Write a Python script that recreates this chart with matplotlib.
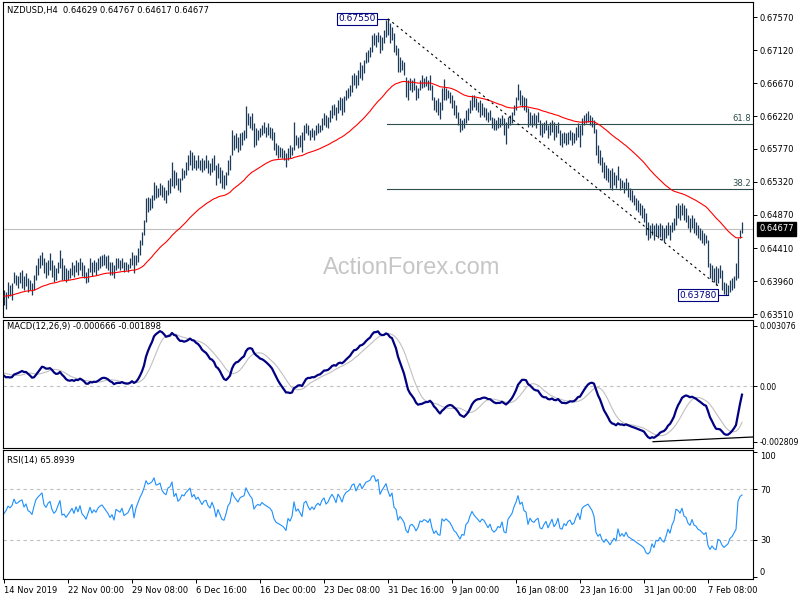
import numpy as np
import matplotlib.pyplot as plt
import matplotlib.transforms as mtransforms

plt.rcParams['font.family'] = ['DejaVu Sans']

# NZDUSD H4 bars, prices in pips (x 0.0001)
highs = [
    6384, 6381, 6395, 6391, 6394, 6409, 6405, 6403, 6409, 6412,
    6403, 6407, 6401, 6398, 6394, 6405, 6418, 6428, 6432, 6436,
    6428, 6422, 6425, 6435, 6425, 6418, 6414, 6422, 6439, 6428,
    6418, 6414, 6412, 6414, 6422, 6418, 6425, 6422, 6428, 6422,
    6418, 6409, 6414, 6428, 6422, 6425, 6422, 6428, 6431, 6432,
    6433, 6431, 6432, 6422, 6422, 6418, 6428, 6428, 6425, 6428,
    6422, 6422, 6420, 6428, 6436, 6432, 6432, 6442, 6453, 6463,
    6480, 6510, 6511, 6510, 6514, 6532, 6528, 6524, 6530, 6528,
    6525, 6521, 6535, 6537, 6559, 6548, 6545, 6537, 6537, 6551,
    6548, 6559, 6569, 6576, 6573, 6569, 6562, 6569, 6562, 6565,
    6562, 6569, 6562, 6558, 6565, 6569, 6555, 6558, 6552, 6548,
    6541, 6545, 6562, 6569, 6603, 6596, 6599, 6593, 6599, 6600,
    6603, 6636, 6626, 6622, 6626, 6612, 6606, 6603, 6606, 6610,
    6614, 6607, 6612, 6607, 6606, 6600, 6585, 6582, 6580, 6578,
    6576, 6571, 6578, 6582, 6580, 6614, 6596, 6593, 6596, 6600,
    6610, 6612, 6610, 6603, 6606, 6603, 6610, 6612, 6610, 6619,
    6626, 6623, 6621, 6630, 6637, 6638, 6634, 6644, 6648, 6647,
    6649, 6658, 6660, 6664, 6678, 6681, 6678, 6685, 6696, 6692,
    6699, 6710, 6712, 6716, 6733, 6735, 6733, 6737, 6733, 6730,
    6740, 6753, 6755, 6749, 6744, 6735, 6719, 6715, 6703, 6699,
    6696, 6675, 6671, 6674, 6671, 6674, 6664, 6660, 6671, 6678,
    6674, 6677, 6671, 6678, 6664, 6648, 6644, 6647, 6641, 6660,
    6672, 6660, 6658, 6655, 6651, 6644, 6637, 6628, 6619, 6617,
    6619, 6630, 6633, 6644, 6651, 6651, 6647, 6641, 6644, 6640,
    6634, 6633, 6628, 6630, 6621, 6619, 6617, 6621, 6619, 6623,
    6619, 6614, 6621, 6623, 6628, 6637, 6648, 6666, 6658, 6651,
    6648, 6647, 6633, 6628, 6623, 6626, 6623, 6628, 6617, 6612,
    6614, 6617, 6610, 6614, 6617, 6614, 6610, 6614, 6603, 6599,
    6600, 6599, 6600, 6603, 6600, 6599, 6607, 6612, 6610, 6619,
    6623, 6626, 6629, 6623, 6621, 6617, 6604, 6582, 6576, 6566,
    6559, 6555, 6551, 6548, 6551, 6545, 6541, 6554, 6537, 6535,
    6532, 6537, 6532, 6524, 6521, 6514, 6510, 6507, 6503, 6500,
    6496, 6489, 6477, 6473, 6476, 6473, 6476, 6473, 6476, 6473,
    6469, 6473, 6477, 6473, 6477, 6483, 6500, 6503, 6500, 6503,
    6500, 6496, 6487, 6483, 6487, 6483, 6477, 6473, 6469, 6466,
    6462, 6459, 6452, 6421, 6418, 6414, 6417, 6414, 6418, 6412,
    6395, 6394, 6391, 6398, 6401, 6403, 6421, 6455, 6466, 6476.7,
]
lows = [
    6364, 6358, 6373, 6376, 6370, 6394, 6391, 6387, 6394, 6387,
    6384, 6390, 6381, 6384, 6377, 6384, 6398, 6405, 6414, 6418,
    6407, 6401, 6405, 6412, 6402, 6395, 6398, 6407, 6414, 6398,
    6398, 6395, 6398, 6401, 6405, 6402, 6409, 6405, 6412, 6403,
    6401, 6394, 6395, 6409, 6403, 6409, 6405, 6412, 6414, 6417,
    6418, 6414, 6412, 6405, 6405, 6401, 6412, 6414, 6412, 6414,
    6409, 6412, 6409, 6414, 6418, 6407, 6418, 6422, 6432, 6446,
    6459, 6477, 6491, 6494, 6496, 6507, 6510, 6511, 6514, 6511,
    6507, 6503, 6514, 6517, 6526, 6524, 6528, 6521, 6518, 6535,
    6537, 6541, 6548, 6555, 6548, 6551, 6548, 6551, 6548, 6545,
    6548, 6551, 6544, 6541, 6545, 6548, 6528, 6537, 6530, 6524,
    6522, 6528, 6541, 6548, 6569, 6576, 6578, 6573, 6576, 6582,
    6589, 6592, 6610, 6606, 6603, 6580, 6582, 6589, 6593, 6596,
    6599, 6593, 6596, 6592, 6589, 6576, 6569, 6565, 6566, 6565,
    6562, 6552, 6562, 6565, 6569, 6576, 6582, 6578, 6580, 6573,
    6589, 6599, 6596, 6589, 6593, 6589, 6596, 6599, 6600, 6603,
    6610, 6607, 6606, 6614, 6619, 6623, 6617, 6626, 6630, 6623,
    6628, 6644, 6647, 6649, 6655, 6664, 6660, 6664, 6674, 6671,
    6681, 6694, 6696, 6703, 6710, 6719, 6716, 6723, 6708, 6712,
    6722, 6730, 6733, 6722, 6726, 6710, 6705, 6682, 6682, 6685,
    6678, 6648, 6644, 6658, 6655, 6658, 6644, 6647, 6658, 6660,
    6662, 6663, 6658, 6658, 6644, 6630, 6628, 6623, 6618, 6630,
    6644, 6644, 6647, 6640, 6633, 6623, 6619, 6610, 6600, 6603,
    6606, 6612, 6617, 6626, 6630, 6634, 6630, 6628, 6621, 6623,
    6621, 6617, 6614, 6617, 6606, 6603, 6603, 6606, 6607, 6610,
    6596, 6584, 6606, 6610, 6612, 6623, 6630, 6644, 6637, 6634,
    6630, 6628, 6607, 6610, 6607, 6610, 6606, 6614, 6596, 6593,
    6599, 6603, 6592, 6596, 6600, 6589, 6593, 6599, 6582, 6580,
    6585, 6582, 6584, 6589, 6582, 6585, 6589, 6593, 6580, 6596,
    6610, 6612, 6614, 6610, 6607, 6599, 6569, 6558, 6555, 6545,
    6537, 6535, 6532, 6524, 6521, 6528, 6524, 6535, 6521, 6524,
    6517, 6521, 6511, 6507, 6504, 6500, 6494, 6491, 6487, 6483,
    6477, 6459, 6453, 6455, 6459, 6453, 6459, 6455, 6457, 6453,
    6450, 6455, 6459, 6453, 6463, 6466, 6473, 6483, 6480, 6487,
    6480, 6477, 6469, 6463, 6469, 6462, 6459, 6455, 6453, 6448,
    6446, 6448, 6416, 6401, 6398, 6395, 6391, 6394, 6401, 6384,
    6379, 6378, 6378, 6381, 6384, 6387, 6398, 6401, 6455, 6461.7,
]
closes = [
    6372, 6378, 6388, 6385, 6390, 6405, 6398, 6400, 6404, 6406,
    6396, 6402, 6392, 6390, 6386, 6400, 6414, 6420, 6425, 6430,
    6414, 6410, 6418, 6422, 6410, 6404, 6408, 6418, 6428, 6404,
    6406, 6400, 6405, 6410, 6416, 6408, 6420, 6412, 6424, 6410,
    6406, 6400, 6410, 6422, 6412, 6418, 6414, 6422, 6426, 6428,
    6424, 6420, 6416, 6410, 6414, 6406, 6422, 6420, 6418, 6424,
    6414, 6416, 6418, 6424, 6430, 6412, 6428, 6438, 6450, 6460,
    6476, 6505, 6500, 6504, 6510, 6528, 6518, 6520, 6526, 6516,
    6512, 6510, 6530, 6534, 6552, 6530, 6540, 6526, 6532, 6546,
    6544, 6555, 6562, 6570, 6556, 6564, 6556, 6562, 6556, 6550,
    6558, 6560, 6552, 6548, 6560, 6552, 6535, 6550, 6540, 6530,
    6528, 6540, 6558, 6565, 6598, 6590, 6585, 6580, 6592, 6596,
    6598, 6625, 6618, 6612, 6608, 6588, 6596, 6600, 6598, 6605,
    6602, 6600, 6598, 6596, 6592, 6580, 6574, 6572, 6570, 6568,
    6565, 6560, 6574, 6570, 6576, 6600, 6586, 6590, 6584, 6578,
    6604, 6608, 6600, 6594, 6600, 6596, 6604, 6608, 6605, 6615,
    6620, 6612, 6616, 6625, 6632, 6628, 6622, 6640, 6636, 6630,
    6644, 6652, 6655, 6660, 6672, 6676, 6668, 6680, 6690, 6684,
    6694, 6705, 6708, 6712, 6728, 6730, 6724, 6732, 6714, 6726,
    6736, 6748, 6738, 6730, 6740, 6716, 6712, 6688, 6696, 6690,
    6682, 6660, 6652, 6666, 6668, 6662, 6650, 6656, 6668, 6666,
    6670, 6668, 6664, 6670, 6650, 6636, 6640, 6630, 6628, 6655,
    6650, 6654, 6650, 6646, 6638, 6628, 6624, 6615, 6606, 6612,
    6610, 6625, 6628, 6638, 6646, 6640, 6636, 6632, 6628, 6632,
    6630, 6624, 6618, 6622, 6612, 6608, 6610, 6614, 6612, 6618,
    6602, 6600, 6616, 6620, 6624, 6634, 6642, 6655, 6644, 6648,
    6636, 6634, 6612, 6622, 6616, 6614, 6618, 6620, 6602, 6600,
    6606, 6610, 6598, 6604, 6610, 6596, 6600, 6608, 6588, 6586,
    6594, 6590, 6596, 6598, 6590, 6592, 6600, 6606, 6596, 6614,
    6618, 6620, 6622, 6618, 6614, 6606, 6575, 6565, 6568, 6552,
    6544, 6548, 6540, 6530, 6534, 6538, 6530, 6546, 6526, 6530,
    6522, 6528, 6516, 6512, 6508, 6505, 6500, 6496, 6492, 6488,
    6482, 6465, 6460, 6462, 6470, 6458, 6466, 6464, 6468, 6460,
    6456, 6462, 6470, 6462, 6472, 6478, 6496, 6494, 6490, 6498,
    6486, 6484, 6474, 6470, 6478, 6468, 6466, 6460, 6458, 6454,
    6450, 6452, 6420, 6406, 6410, 6400, 6396, 6408, 6405, 6390,
    6382, 6384, 6386, 6392, 6394, 6398, 6402, 6450, 6463, 6467.7,
]

# values carried in from before the first bar (pips)
ma_seed = 6376
ema12_seed = 6385
ema26_seed = 6378
signal_seed = 7
rsi_prev_close = 6370
rsi_gain_seed = 5.0
rsi_loss_seed = 5.0

date_ticks = [0, 32, 64, 96, 128, 160, 192, 224, 256, 288, 320, 352]
date_labels = ['14 Nov 2019', '22 Nov 00:00', '29 Nov 08:00', '6 Dec 16:00',
               '16 Dec 00:00', '23 Dec 08:00', '31 Dec 16:00', '9 Jan 00:00',
               '16 Jan 08:00', '23 Jan 16:00', '31 Jan 00:00', '7 Feb 08:00']
price_ticks = [0.67570, 0.67120, 0.66670, 0.66220, 0.65770, 0.65320,
               0.64870, 0.64410, 0.63960, 0.63510]
macd_ticks = [-0.002809, 0.0, 0.003076]
macd_labels = ['-0.002809', '0.00', '0.003076']
rsi_ticks = [0, 30, 70, 100]

swing_high, swing_high_bar = 0.67550, 192
swing_low, swing_low_bar = 0.63780, 361
fib_ratios = [0.618, 0.382]
trend_end_bar, trend_end = 357, 0.63900
div_bars = [324.5, 374.5]
div_vals = [-0.00281, -0.00257]
last_open, last_high, last_low, last_close = '0.64629', '0.64767', '0.64617', '0.64677'
last_price = 0.64677

bar_color = '#1b3b5a'

h = np.array(highs) / 10000
l = np.array(lows) / 10000
c = np.array(closes, dtype=float)
x = np.arange(len(c))


def ema(vals, period, seed):
    k = 2.0 / (period + 1)
    out, prev = [], seed
    for v in vals:
        prev = prev + k * (v - prev)
        out.append(prev)
    return np.array(out)


ma = ema(c, 55, ma_seed) / 10000
macd = ema(c, 12, ema12_seed) - ema(c, 26, ema26_seed)
hist = np.concatenate([np.full(8, signal_seed), macd])
signal = np.array([hist[i:i + 9].mean() for i in range(len(macd))])
macd, signal = macd / 10000, signal / 10000

gains, losses = [], []
prev, ag, al = rsi_prev_close, rsi_gain_seed, rsi_loss_seed
for v in c:
    d = v - prev
    ag = (ag * 13 + max(d, 0)) / 14
    al = (al * 13 + max(-d, 0)) / 14
    gains.append(ag)
    losses.append(al)
    prev = v
rsi = 100 - 100 / (1 + np.array(gains) / np.array(losses))

fig = plt.figure(figsize=(8, 6), dpi=100)


def frac(x0, y0, x1, y1):
    return [x0 / 800, 1 - y1 / 600, (x1 - x0) / 800, (y1 - y0) / 600]


ax = fig.add_axes(frac(3, 2, 753, 317))
ax_m = fig.add_axes(frac(3, 320, 753, 448))
ax_r = fig.add_axes(frac(3, 450, 753, 579))

for a in (ax, ax_m, ax_r):
    a.set_xlim(-0.5, 374.5)
    for s in a.spines.values():
        s.set_linewidth(0.8)
        s.set_color('black')
    a.tick_params(axis='y', left=False, labelleft=False, right=True, labelright=True,
                  length=3, width=0.7, labelsize=6, pad=2)
    a.tick_params(axis='x', bottom=False, labelbottom=False)

# price panel
ax.set_ylim(0.63473, 0.67779)
ax.axhline(last_price, color='#c0c0c0', lw=0.8, zorder=1)
ax.vlines(x, l, h, color=bar_color, lw=0.9, zorder=2)
ax.plot(x, ma, color='red', lw=0.8, zorder=3)
ax.set_yticks(price_ticks)
ax.set_yticklabels([f'{p:.5f}' for p in price_ticks])

rng = swing_high - swing_low
for r in fib_ratios:
    lvl = swing_low + r * rng
    ax.plot([swing_high_bar - 0.5, 374.5], [lvl, lvl], color='#2f4f4f', lw=0.8, zorder=2)
    ax.text(373.5, lvl + 0.0002, f'{r * 100:.1f}', color='#2f4f4f', fontsize=6,
            ha='right', va='bottom')

ax.plot([swing_high_bar, trend_end_bar], [swing_high, trend_end], color='black',
        lw=0.8, ls=(0, (2, 3)), zorder=3)

box = dict(boxstyle='square,pad=0.15', fc='white', ec='#000080', lw=0.8)
ax.plot([186, swing_high_bar], [swing_high, swing_high], color='#000080', lw=0.8)
ax.text(186, swing_high, '0.67550', color='#000080', fontsize=6.5, ha='right',
        va='center', bbox=box, zorder=5)
ax.plot([356.5, swing_low_bar + 1], [swing_low - 0.0001, swing_low - 0.0001],
        color='#000080', lw=0.8)
ax.text(356.5, swing_low - 0.0001, '0.63780', color='#000080', fontsize=6.5,
        ha='right', va='center', bbox=box, zorder=5)

trans = mtransforms.blended_transform_factory(ax.transAxes, ax.transData)
ax.text(1.008, last_price, last_close, transform=trans, color='white', fontsize=6,
        ha='left', va='center',
        bbox=dict(boxstyle='square,pad=0.25', fc='black', ec='black'), zorder=6,
        clip_on=False)

# MACD panel
ax_m.set_ylim(-0.00313, 0.00338)
ax_m.axhline(0, color='#c0c0c0', lw=0.8, ls=(0, (3, 3)))
ax_m.plot(x, signal, color='#c0c0c0', lw=0.8)
ax_m.plot(x, macd, color='#000080', lw=1.6)
ax_m.plot(div_bars, div_vals, color='black', lw=0.9)
ax_m.set_yticks(macd_ticks)
ax_m.set_yticklabels(macd_labels)
ax_m.tick_params(axis='y', labelsize=5.6, pad=1.5)

# RSI panel
ax_r.set_ylim(-1.5, 101.5)
for lv in (30, 70):
    ax_r.axhline(lv, color='#c0c0c0', lw=0.8, ls=(0, (3, 3)))
ax_r.plot(x, rsi, color='#1e90ff', lw=0.8)
ax_r.set_yticks(rsi_ticks)
ax_r.set_yticklabels([str(v) for v in rsi_ticks])
tl = ax_r.get_yticklabels()
tl[0].set_va('bottom')
tl[-1].set_va('top')
ax_r.tick_params(axis='x', bottom=True, labelbottom=True, length=3, width=0.7,
                 labelsize=6, pad=2)
ax_r.set_xticks(date_ticks)
ax_r.set_xticklabels(date_labels, ha='left')

fig.text(7 / 800, 1 - 11 / 600,
         f'NZDUSD,H4  {last_open} {last_high} {last_low} {last_close}',
         fontsize=6, va='center')
fig.text(7 / 800, 1 - 327 / 600, 'MACD(12,26,9) -0.000666 -0.001898',
         fontsize=6, va='center')
fig.text(7 / 800, 1 - 460 / 600, 'RSI(14) 65.8939', fontsize=6, va='center')
fig.text(412 / 800, 1 - 268 / 600, 'ActionForex.com', fontsize=17,
         family='Liberation Sans', color='#c6c6c6', ha='center', va='center')

fig.savefig('out.png', dpi=100)
